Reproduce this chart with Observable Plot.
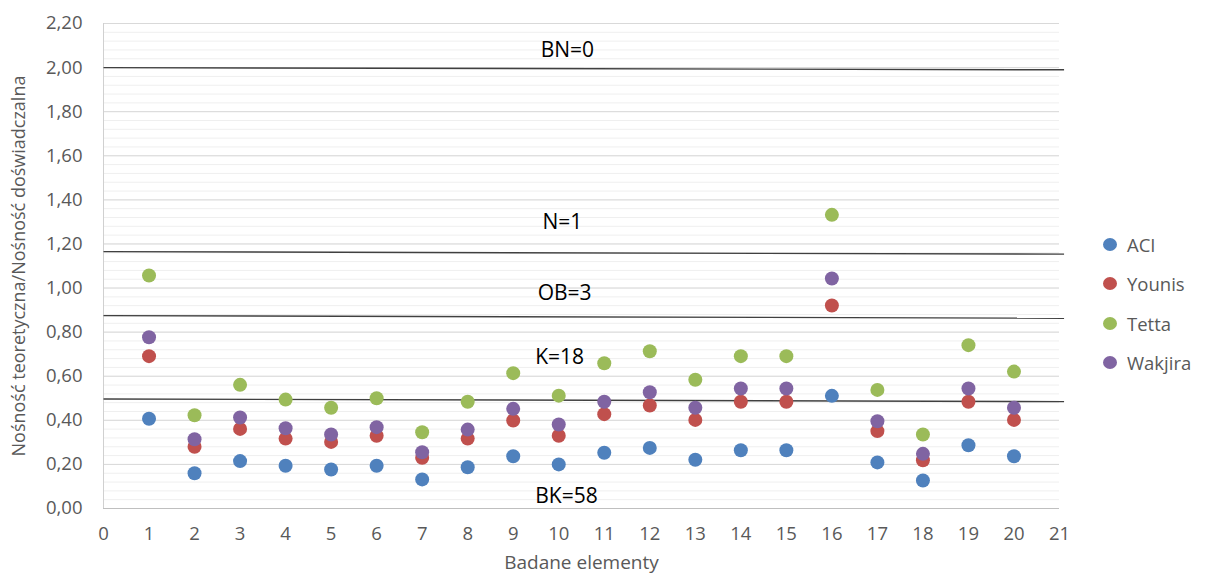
<!DOCTYPE html>
<html>
<head>
<meta charset="utf-8">
<script src="https://cdn.jsdelivr.net/npm/d3@7"></script>
<script src="https://cdn.jsdelivr.net/npm/@observablehq/plot@0.6"></script>
<style>
  html, body { margin: 0; padding: 0; background: #fff; }
  #wrap { position: relative; width: 1206px; height: 579px; font-family: "Open Sans", sans-serif; }
  #legend { position: absolute; left: 1103px; top: 225px; }
  .item { display: flex; align-items: center; height: 39.3px; font-size: 18.5px; color: #595959; }
  .sw { width: 14px; height: 13px; border-radius: 50%; margin-right: 10px; }
</style>
</head>
<body>
<div id="wrap"></div>
<script>
const elements = d3.range(1, 21);
const seriesNames = ["ACI", "Younis", "Tetta", "Wakjira"];
const seriesColors = ["#4F81BD", "#C0504D", "#9BBB59", "#8064A2"];
const aci     = [0.407,0.160,0.215,0.194,0.177,0.194,0.132,0.187,0.237,0.200,0.253,0.275,0.221,0.264,0.264,0.511,0.209,0.127,0.287,0.237];
const younis  = [0.691,0.280,0.361,0.317,0.302,0.330,0.230,0.317,0.399,0.330,0.428,0.467,0.402,0.484,0.484,0.921,0.351,0.219,0.484,0.402];
const tetta   = [1.057,0.423,0.561,0.494,0.457,0.500,0.346,0.484,0.614,0.512,0.659,0.713,0.584,0.691,0.691,1.332,0.538,0.336,0.741,0.621];
const wakjira = [0.777,0.314,0.413,0.364,0.336,0.369,0.255,0.358,0.452,0.381,0.484,0.527,0.457,0.544,0.544,1.043,0.396,0.248,0.544,0.457];

const xTicks = d3.range(0, 22);
const yMajor = [0, 0.2, 0.4, 0.6, 0.8, 1.0, 1.2, 1.4, 1.6, 1.8, 2.0, 2.2];
const yMinor = d3.range(0, 2.2001, 0.04);

// reference lines (drawn shapes, slightly sloped in the original)
const refY1 = [2.000, 1.165, 0.875, 0.497];
const refY2 = [1.990, 1.154, 0.863, 0.485];
const refX1 = 0, refX2 = 21.1;

// text annotations
const annLabels = ["BN=0", "N=1", "OB=3", "K=18", "BK=58"];
const annX = [10.19, 10.08, 10.13, 10.02, 10.17];
const annY = [2.077, 1.297, 0.975, 0.685, 0.054];

const all = [aci, younis, tetta, wakjira];
const points = [];
all.forEach((arr, s) => arr.forEach((v, i) => points.push({x: elements[i], y: v, s: seriesNames[s]})));
const refs = refY1.map((y1, i) => ({x1: refX1, x2: refX2, y1, y2: refY2[i]}));
const anns = annLabels.map((t, i) => ({t, x: annX[i], y: annY[i]}));

const fmt = d => d3.format(".2f")(d).replace(".", ",");

const chart = Plot.plot({
  width: 1206,
  height: 579,
  marginLeft: 103,
  marginRight: 147,
  marginTop: 23,
  marginBottom: 71,
  style: {fontFamily: "Open Sans, sans-serif", background: "#fff", overflow: "visible"},
  x: {domain: [0, 21]},
  y: {domain: [0, 2.2]},
  color: {domain: seriesNames, range: seriesColors},
  marks: [
    Plot.ruleY(yMinor, {stroke: "#efefef", strokeWidth: 1}),
    Plot.ruleY(yMajor.filter(d => d > 0), {stroke: "#d9d9d9", strokeWidth: 1}),
    Plot.ruleY([0], {stroke: "#bfbfbf", strokeWidth: 1.2}),
    Plot.ruleX([0], {stroke: "#d0d0d0", strokeWidth: 1}),
    Plot.axisY({ticks: yMajor, tickSize: 0, tickPadding: 21, tickFormat: fmt, fontSize: 18.5, color: "#595959", label: null}),
    Plot.axisX({ticks: xTicks, tickSize: 0, tickPadding: 18, tickFormat: d => String(d), fontSize: 18.5, color: "#595959", label: null}),
    Plot.text(["Badane elementy"], {frameAnchor: "bottom", dy: 60, fontSize: 19, fill: "#595959"}),
    Plot.text(["Nośność teoretyczna/Nośność doświadczalna"], {frameAnchor: "left", textAnchor: "middle", rotate: -90, dx: -84, dy: 0, fontSize: 18, fill: "#595959"}),
    Plot.link(refs, {x1: "x1", x2: "x2", y1: "y1", y2: "y2", stroke: "#404040", strokeWidth: 1.4}),
    Plot.text(anns, {x: "x", y: "y", text: "t", fontSize: 21, fill: "#000"}),
    Plot.dot(points, {x: "x", y: "y", fill: "s", r: 7, stroke: "none"})
  ]
});

const wrap = document.getElementById("wrap");
wrap.appendChild(chart);
const legend = document.createElement("div");
legend.id = "legend";
seriesNames.forEach((n, i) => {
  const it = document.createElement("div");
  it.className = "item";
  const sw = document.createElement("span");
  sw.className = "sw";
  sw.style.background = seriesColors[i];
  it.appendChild(sw);
  it.appendChild(document.createTextNode(n));
  legend.appendChild(it);
});
wrap.appendChild(legend);
</script>
</body>
</html>
